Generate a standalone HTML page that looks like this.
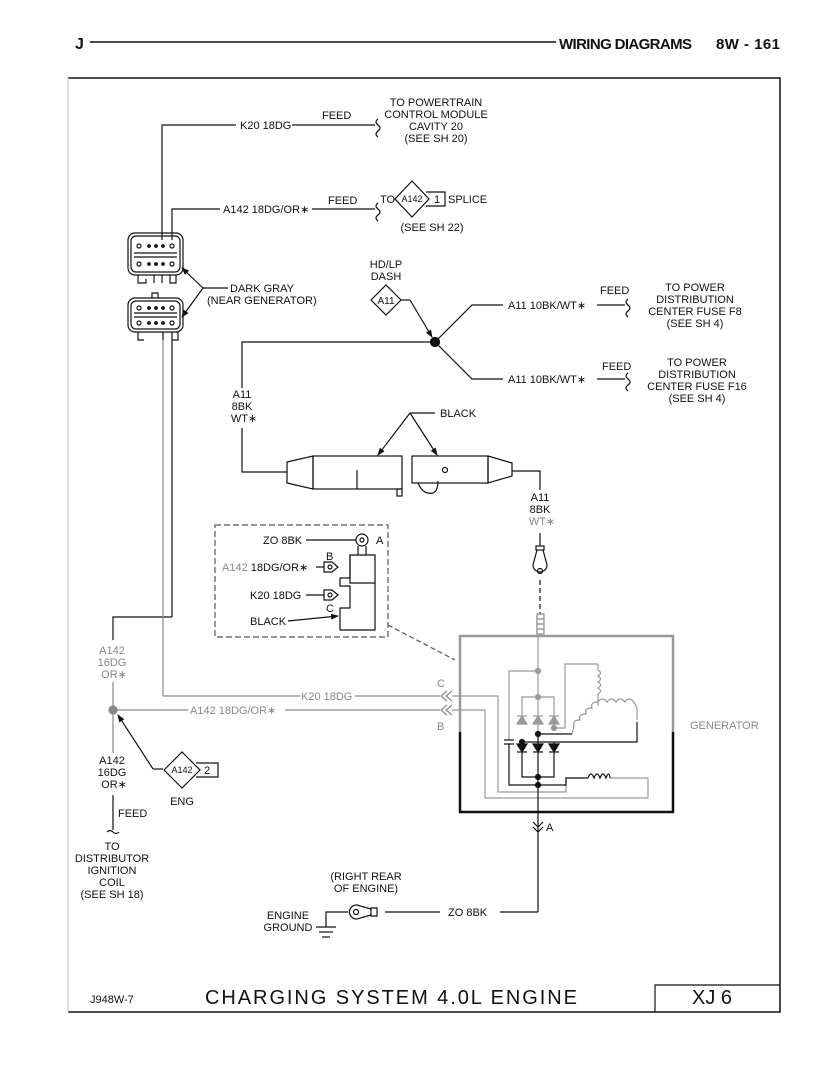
<!DOCTYPE html>
<html><head><meta charset="utf-8"><style>
html,body{margin:0;padding:0;background:#fff;}
svg{display:block;}
text{font-family:"Liberation Sans",sans-serif;font-size:11px;fill:#111;}
.g{fill:#888;}
</style></head><body>
<svg width="835" height="1080" viewBox="0 0 835 1080" xmlns="http://www.w3.org/2000/svg">
<defs>
<marker id="ar" markerWidth="8" markerHeight="8" refX="7" refY="4" orient="auto" markerUnits="userSpaceOnUse"><path d="M0,1 L8,4 L0,7 z" fill="#111"/></marker>
</defs>
<g stroke="#111" fill="none" stroke-width="1.2">
<line x1="90" y1="42" x2="556" y2="42" stroke-width="1.5"/>
<polyline points="68,78 780,78 780,1012 68,1012" stroke-width="1.5"/>
<line x1="68" y1="78" x2="68" y2="1012" stroke="#ccc"/>
<polyline points="655,1012 655,985 780,985"/>

<polyline points="162,240 162,125 236,125"/>
<line x1="292" y1="125" x2="375" y2="125"/>
<path d="M378,119 q-4,3 0,6 q4,3 0,6 q-4,3 0,6"/>
<polyline points="172,240 172,209 220,209"/>
<line x1="312" y1="209" x2="375" y2="209"/>
<path d="M378,203 q-4,3 0,6 q4,3 0,6 q-4,3 0,6"/>
<polygon points="395,199 412,181 429,199 412,217"/>
<polyline points="426,192 445,192 445,206 426,206"/>

<rect x="128" y="233" width="55" height="42" rx="7"/>
<rect x="131" y="236" width="49" height="36" rx="5"/>
<line x1="134" y1="253" x2="177" y2="253"/><line x1="134" y1="257" x2="177" y2="257"/>
<circle cx="139" cy="246" r="2"/><circle cx="149" cy="246" r="1.3" fill="#111"/><circle cx="156" cy="246" r="1.3" fill="#111"/><circle cx="163" cy="246" r="1.3" fill="#111"/><circle cx="172" cy="246" r="2"/>
<circle cx="139" cy="264" r="2"/><circle cx="149" cy="264" r="1.3" fill="#111"/><circle cx="156" cy="264" r="1.3" fill="#111"/><circle cx="163" cy="264" r="1.3" fill="#111"/><circle cx="172" cy="264" r="2"/>
<path d="M138,275 v8 h8 v-4 M154,275 v8 M162,283 v-8 M170,275 v8 h6 v-8"/>
<rect x="128" y="298" width="55" height="34" rx="7"/>
<rect x="131" y="301" width="49" height="28" rx="5"/>
<line x1="134" y1="313" x2="177" y2="313"/><line x1="134" y1="317" x2="177" y2="317"/>
<circle cx="139" cy="308" r="2"/><circle cx="149" cy="308" r="1.3" fill="#111"/><circle cx="156" cy="308" r="1.3" fill="#111"/><circle cx="163" cy="308" r="1.3" fill="#111"/><circle cx="172" cy="308" r="2"/>
<circle cx="139" cy="323" r="2"/><circle cx="149" cy="323" r="1.3" fill="#111"/><circle cx="156" cy="323" r="1.3" fill="#111"/><circle cx="163" cy="323" r="1.3" fill="#111"/><circle cx="172" cy="323" r="2"/>
<path d="M152,298 v-5 h6 v5"/>
<path d="M138,332 v8 h6 M163,332 v8 M172,332 v8 h6 v-8"/>
<polyline points="228,288 203,288"/>
<line x1="203" y1="288" x2="182" y2="268" marker-end="url(#ar)"/>
<line x1="203" y1="288" x2="182" y2="317" marker-end="url(#ar)"/>

<line x1="172" y1="340" x2="172" y2="617"/>
<polyline points="172,617 113,617 113,640"/>
<line x1="163" y1="340" x2="163" y2="696" stroke="#888"/>
<polyline points="163,696 300,696" stroke="#888"/>
<line x1="355" y1="696" x2="440" y2="696" stroke="#888"/>
<line x1="113" y1="682" x2="113" y2="753" stroke="#888"/>
<line x1="113" y1="710" x2="188" y2="710" stroke="#888"/>
<line x1="285" y1="710" x2="440" y2="710" stroke="#888"/>
<circle cx="113" cy="710" r="4" fill="#888" stroke="#888"/>
<path d="M447,691 l-6,5 l6,5 M452,691 l-6,5 l6,5 M447,705 l-6,5 l6,5 M452,705 l-6,5 l6,5" stroke="#888"/>
<line x1="153" y1="769" x2="118" y2="715" stroke="#111" marker-end="url(#ar)"/>
<line x1="153" y1="769" x2="163" y2="769"/>
<polygon points="164,770 182,752 200,770 182,788"/>
<polyline points="196,763 218,763 218,777 196,777"/>
<line x1="113" y1="795" x2="113" y2="830"/>
<path d="M107,832 q3,-3 6,0 q3,3 6,0"/>

<polygon points="371,300 386,285 401,300 386,315"/>
<polyline points="401,300 410,300"/>
<line x1="410" y1="300" x2="432" y2="337" marker-end="url(#ar)"/>
<circle cx="435" cy="342" r="4.5" fill="#111"/>
<polyline points="435,342 472,305 503,305"/>
<line x1="597" y1="305" x2="625" y2="305"/>
<path d="M628,299 q-4,3 0,6 q4,3 0,6 q-4,3 0,6"/>
<polyline points="435,342 472,379 503,379"/>
<line x1="597" y1="379" x2="625" y2="379"/>
<path d="M628,373 q-4,3 0,6 q4,3 0,6 q-4,3 0,6"/>
<polyline points="435,342 242,342 242,388"/>
<polyline points="242,428 242,472 287,472"/>

<polygon points="287,462 313,456 313,489 287,483"/>
<rect x="313" y="456" width="89" height="33"/>
<line x1="357" y1="470" x2="357" y2="489"/>
<rect x="397" y="489" width="5" height="7"/>
<rect x="412" y="456" width="76" height="27"/>
<polygon points="488,456 512,463 512,476 488,483"/>
<circle cx="445" cy="470" r="2.5"/>
<path d="M418,483 q5,12 15,10 q5,-2 5,-12"/>
<polyline points="512,471 540,471 540,490"/>
<polyline points="435,413 410,413"/>
<line x1="410" y1="413" x2="378" y2="455" marker-end="url(#ar)"/>
<line x1="410" y1="413" x2="437" y2="455" marker-end="url(#ar)"/>

<line x1="540" y1="533" x2="540" y2="546"/>
<rect x="536" y="546" width="8" height="4"/>
<path d="M537,550 L533,565 a7,7 0 1,0 14,0 L543,550"/>
<circle cx="540" cy="571" r="2.5"/>
<line x1="540" y1="580" x2="540" y2="614" stroke-dasharray="5,3"/>
<rect x="537" y="614" width="7" height="20" stroke="#888"/>
<line x1="537" y1="619" x2="544" y2="619" stroke="#888"/><line x1="537" y1="624" x2="544" y2="624" stroke="#888"/><line x1="537" y1="629" x2="544" y2="629" stroke="#888"/>

<polyline points="460,732 460,636 673,636 673,732" stroke="#999" stroke-width="2.5"/>
<polyline points="460,732 460,812 673,812 673,732" stroke="#111" stroke-width="2.5"/>
<line x1="388" y1="625" x2="455" y2="660" stroke="#555" stroke-dasharray="5,3"/>
<g stroke="#999">
<line x1="538" y1="636" x2="538" y2="734"/>
<polyline points="509,740 509,671 538,671"/>
<polyline points="522,720 522,697 554,697 554,728"/>
<polyline points="554,728 565,728 565,664 598,664"/>
<path d="M598,664 v6 q5,3 0,6 q5,3 0,6 q5,3 0,6 q5,3 0,6 v12"/>
<path d="M598,702 q-8,0 -6,6 q-8,0 -6,6 q-8,0 -6,6 q-8,0 -6,6 L572,734"/>
<path d="M598,702 q4,-6 9,0 q4,-6 9,0 q4,-6 9,0 q4,-6 9,0 l3,6 v12"/>
<polygon points="517,724 527,724 522,716" fill="#999"/><polygon points="533,724 543,724 538,716" fill="#999"/><polygon points="549,724 559,724 554,716" fill="#999"/>
<line x1="517" y1="716" x2="527" y2="716"/><line x1="533" y1="716" x2="543" y2="716"/><line x1="549" y1="716" x2="559" y2="716"/>
<circle cx="538" cy="671" r="2.5" fill="#999"/><circle cx="538" cy="697" r="2.5" fill="#999"/><circle cx="554" cy="728" r="2.5" fill="#999"/>
<polyline points="452,696 498,696 498,792 566,792 566,778"/>
<polyline points="452,710 485,710 485,798 648,798 648,778 610,778"/>
</g>
<line x1="538" y1="734" x2="538" y2="912"/>
<polyline points="538,734 572,734"/>
<polyline points="522,742 637,742 637,722"/>
<polyline points="522,742 522,777 554,777 554,742"/>
<polyline points="509,744 509,785 566,785 566,778 588,778"/>
<path d="M588,778 q3,-8 6,0 q3,-8 6,0 q3,-8 6,0 q3,-8 4,0"/>
<line x1="504" y1="740" x2="514" y2="740"/><line x1="504" y1="744" x2="514" y2="744"/>
<polygon points="517,744 527,744 522,752" fill="#111"/><polygon points="533,744 543,744 538,752" fill="#111"/><polygon points="549,744 559,744 554,752" fill="#111"/>
<line x1="517" y1="752" x2="527" y2="752"/><line x1="533" y1="752" x2="543" y2="752"/><line x1="549" y1="752" x2="559" y2="752"/>
<circle cx="538" cy="734" r="2.5" fill="#111"/><circle cx="522" cy="742" r="2.5" fill="#111"/><circle cx="538" cy="777" r="2.5" fill="#111"/><circle cx="538" cy="785" r="2.5" fill="#111"/>
<path d="M533,822 l5,5 l5,-5 M533,827 l5,5 l5,-5"/>
<polyline points="538,912 500,912"/>
<line x1="440" y1="912" x2="385" y2="912"/>
<path d="M371,908 h6 v8 h-6 z"/>
<path d="M371,909 L360,906 a7,7 0 1,0 0,12 L371,915"/>
<circle cx="356" cy="912" r="2.5"/>
<polyline points="348,912 326,912 326,927"/>
<line x1="316" y1="927" x2="336" y2="927"/><line x1="319" y1="932" x2="333" y2="932"/><line x1="322" y1="937" x2="330" y2="937"/>

<rect x="215" y="525" width="173" height="112" stroke="#555" stroke-dasharray="6,3"/>
<line x1="306" y1="540" x2="356" y2="540"/>
<circle cx="362" cy="540" r="6"/><circle cx="362" cy="540" r="2"/>
<path d="M358,546 v9 M366,546 v9"/>
<path d="M350,555 h25 v75 h-35 v-22 h10 v-22 h-10 v-8 h10 z"/>
<polyline points="350,555 350,583 375,583"/>
<line x1="316" y1="567" x2="324" y2="567"/>
<path d="M324,562 h8 l6,5 l-6,5 h-8 z"/><circle cx="330" cy="567" r="2"/>
<line x1="306" y1="595" x2="324" y2="595"/>
<path d="M324,590 h8 l6,5 l-6,5 h-8 z"/><circle cx="330" cy="595" r="2"/>
<line x1="288" y1="621" x2="338" y2="616" marker-end="url(#ar)"/>
</g>

<text x="75" y="49" style="font-weight:bold;font-size:16px">J</text>
<text x="559" y="49" style="font-weight:bold;font-size:15px" textLength="133">WIRING DIAGRAMS</text>
<text x="716" y="49" style="font-weight:bold;font-size:15px" textLength="64">8W - 161</text>

<text x="240" y="129">K20 18DG</text>
<text x="322" y="119">FEED</text>
<g text-anchor="middle"><text x="436" y="106">TO POWERTRAIN</text><text x="436" y="118">CONTROL MODULE</text><text x="436" y="130">CAVITY 20</text><text x="436" y="142">(SEE SH 20)</text></g>
<text x="223" y="213">A142 18DG/OR∗</text>
<text x="328" y="204">FEED</text>
<text x="380" y="203">TO</text>
<text x="412" y="202" text-anchor="middle" style="font-size:9px">A142</text>
<text x="434" y="203">1</text>
<text x="448" y="203">SPLICE</text>
<text x="432" y="231" text-anchor="middle">(SEE SH 22)</text>
<text x="230" y="292">DARK GRAY</text>
<text x="207" y="304">(NEAR GENERATOR)</text>
<text x="386" y="268" text-anchor="middle">HD/LP</text><text x="386" y="280" text-anchor="middle">DASH</text>
<text x="386" y="304" text-anchor="middle" style="font-size:10px">A11</text>
<text x="508" y="309">A11 10BK/WT∗</text>
<text x="600" y="294">FEED</text>
<g text-anchor="middle"><text x="695" y="291">TO POWER</text><text x="695" y="303">DISTRIBUTION</text><text x="695" y="315">CENTER FUSE F8</text><text x="695" y="327">(SEE SH 4)</text></g>
<text x="508" y="383">A11 10BK/WT∗</text>
<text x="602" y="370">FEED</text>
<g text-anchor="middle"><text x="697" y="366">TO POWER</text><text x="697" y="378">DISTRIBUTION</text><text x="697" y="390">CENTER FUSE F16</text><text x="697" y="402">(SEE SH 4)</text></g>
<g text-anchor="middle"><text x="242" y="398">A11</text><text x="242" y="410">8BK</text><text x="244" y="422">WT∗</text></g>
<text x="440" y="417">BLACK</text>
<g text-anchor="middle"><text x="540" y="501">A11</text><text x="540" y="513">8BK</text><text x="542" y="525" class="g">WT∗</text></g>
<text x="263" y="544">ZO 8BK</text>
<text x="376" y="544">A</text>
<text x="326" y="560">B</text>
<text x="222" y="571"><tspan class="g">A142</tspan> 18DG/OR∗</text>
<text x="250" y="599">K20 18DG</text>
<text x="326" y="612">C</text>
<text x="250" y="625">BLACK</text>
<g text-anchor="middle"><text x="112" y="654" class="g">A142</text><text x="112" y="666" class="g">16DG</text><text x="114" y="678" class="g">OR∗</text></g>
<text x="301" y="700" class="g">K20 18DG</text>
<text x="190" y="714" class="g">A142 18DG/OR∗</text>
<text x="437" y="687" class="g">C</text>
<text x="437" y="730" class="g">B</text>
<text x="690" y="729" class="g">GENERATOR</text>
<g text-anchor="middle"><text x="112" y="764">A142</text><text x="112" y="776">16DG</text><text x="114" y="788">OR∗</text></g>
<text x="182" y="773" text-anchor="middle" style="font-size:9px">A142</text>
<text x="204" y="774">2</text>
<text x="182" y="805" text-anchor="middle">ENG</text>
<text x="118" y="817">FEED</text>
<g text-anchor="middle"><text x="112" y="850">TO</text><text x="112" y="862">DISTRIBUTOR</text><text x="112" y="874">IGNITION</text><text x="112" y="886">COIL</text><text x="112" y="898">(SEE SH 18)</text></g>
<text x="546" y="831">A</text>
<text x="366" y="880" text-anchor="middle">(RIGHT REAR</text><text x="366" y="892" text-anchor="middle">OF ENGINE)</text>
<text x="448" y="916">ZO 8BK</text>
<text x="288" y="919" text-anchor="middle">ENGINE</text><text x="288" y="931" text-anchor="middle">GROUND</text>
<text x="90" y="1003" style="font-size:11px">J948W-7</text>
<text x="205" y="1004" style="font-size:20px" textLength="372">CHARGING SYSTEM 4.0L ENGINE</text>
<text x="692" y="1004" style="font-size:20px">XJ 6</text>
</svg>
</body></html>
